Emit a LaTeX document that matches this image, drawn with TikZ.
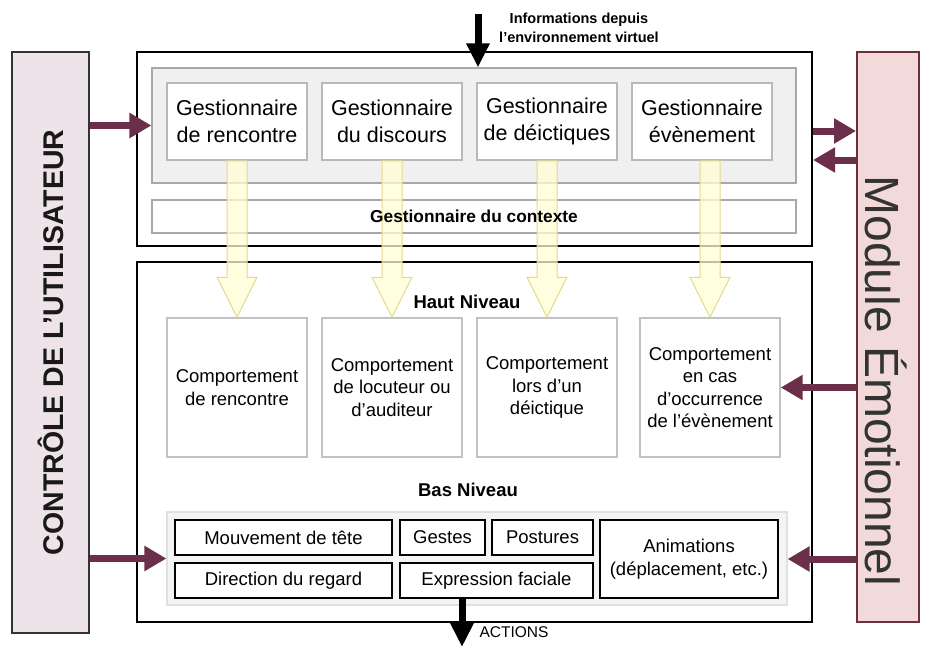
\documentclass[tikz,border=0pt]{standalone}
\usepackage{fontspec}
\setmainfont{Liberation Sans}
\usetikzlibrary{arrows.meta,calc}

\definecolor{maroon}{HTML}{6B2F4C}
\definecolor{ctrlfill}{HTML}{EDE3E8}
\definecolor{emofill}{HTML}{F3DADA}
\definecolor{emoline}{HTML}{6E2E3A}
\definecolor{panelfill}{HTML}{F0F0F0}
\definecolor{softline}{HTML}{A8A8A8}
\definecolor{yfill}{HTML}{FFFFD6}
\definecolor{yline}{HTML}{E2D98E}

\tikzset{
  px/.style={x=1pt,y=-1pt},
  frame/.style={draw=black,line width=2.2pt},
  gpanel/.style={draw=softline,line width=1.2pt,fill=panelfill},
  gbox/.style={draw=softline!80,line width=1.8pt,fill=white,align=center,
    font=\fontsize{21.5}{27}\selectfont},
  cbox/.style={draw=softline!70,line width=1.4pt,fill=white,align=center,
    font=\fontsize{18.5}{22.5}\selectfont},
  lowbox/.style={draw=black,line width=1.5pt,fill=white,align=center,
    font=\fontsize{18.5}{22.5}\selectfont},
  title/.style={font=\bfseries\fontsize{18.5}{22}\selectfont},
  marr/.style={draw=maroon,line width=7pt,-{Triangle[length=22pt,width=24pt]}},
  barr/.style={draw=black,line width=7pt,-{Triangle[length=24pt,width=22pt]}},
  yarr/.style={draw=yline,line width=1pt,fill=yfill,fill opacity=0.75},
}

% hollow yellow arrow from a manager box to a behaviour box
\newcommand{\yellowarrow}[2]{%
  \path[yarr] ($(#2.north |- #1.south)+(-10,0)$) -- ($(#2.north |- #1.south)+(10,0)$)
    -- ($(#2.north)+(10,-40)$) -- ($(#2.north)+(20,-40)$) -- (#2.north)
    -- ($(#2.north)+(-20,-40)$) -- ($(#2.north)+(-10,-40)$) -- cycle;}

\begin{document}
\begin{tikzpicture}[px]
\useasboundingbox (0,0) rectangle (925,650);
\fill[white] (0,0) rectangle (925,650);

% side modules
\node[draw=black!80,line width=1.5pt,fill=ctrlfill,minimum width=77pt,minimum height=581pt,
  inner sep=0pt] (ctrl) at (50.5,342.5) {};
\node[rotate=90,font=\bfseries\fontsize{28.5}{32}\selectfont,text=black!90] (ctrltxt) at (ctrl.center)
  {CONTRÔLE DE L’UTILISATEUR};
\node[draw=emoline,line width=2pt,fill=emofill,minimum width=62pt,minimum height=570pt,
  inner sep=0pt] (emo) at (888,337) {};
\node[rotate=-90,font=\fontsize{48}{52}\selectfont,text=black!80] (emotxt) at (886,381)
  {Module Émotionnel};

% upper block: managers
\node[frame,minimum width=675pt,minimum height=194pt,inner sep=0pt] (topbox) at (474.5,149) {};
\node[gpanel,minimum width=644pt,minimum height=115pt,inner sep=0pt] (gpanel) at (474,125.5) {};
\node[gbox,minimum width=140pt,minimum height=77pt,inner sep=0pt] (g1) at (237,121.5)
  {Gestionnaire\\de rencontre};
\node[gbox,minimum width=140pt,minimum height=77pt,inner sep=0pt] (g2) at (392,121.5)
  {Gestionnaire\\du discours};
\node[gbox,minimum width=140pt,minimum height=77pt,inner sep=0pt] (g3) at (547,121.5)
  {Gestionnaire\\de déictiques};
\node[gbox,minimum width=140pt,minimum height=77pt,inner sep=0pt] (g4) at (702,121.5)
  {Gestionnaire\\évènement};
\node[draw=softline,line width=1.2pt,fill=white,minimum width=644pt,minimum height=33pt,
  inner sep=0pt] (ctx) at (474,216.5) {};

% lower block: behaviours
\node[frame,minimum width=675pt,minimum height=360pt,inner sep=0pt] (lowbox) at (474.5,442) {};
\node[title] (haut) at (467,302) {Haut Niveau};
\node[cbox,minimum width=140pt,minimum height=139pt,inner sep=0pt] (c1) at (237,387.5)
  {Comportement\\de rencontre};
\node[cbox,minimum width=140pt,minimum height=139pt,inner sep=0pt] (c2) at (392,387.5)
  {Comportement\\de locuteur ou\\d’auditeur};
\node[cbox,minimum width=140pt,minimum height=139pt,inner sep=0pt] (c3) at (547,387.5)
  {Comportement\\lors d’un\\déictique};
\node[cbox,minimum width=140pt,minimum height=139pt,inner sep=0pt] (c4) at (710,387.5)
  {Comportement\\en cas\\d’occurrence\\de l’évènement};

\node[title] (bas) at (468,490) {Bas Niveau};
\node[draw=black!12,line width=1.2pt,fill=panelfill!70,minimum width=620pt,minimum height=93pt,
  inner sep=0pt] (baspanel) at (477,558.5) {};
\node[lowbox,minimum width=217pt,minimum height=35pt,inner sep=0pt] (tete) at (283.5,537.5)
  {Mouvement de tête};
\node[lowbox,minimum width=85pt,minimum height=35pt,inner sep=0pt] (gestes) at (442.5,537.5)
  {Gestes};
\node[lowbox,minimum width=101pt,minimum height=35pt,inner sep=0pt] (post) at (542.5,537.5)
  {Postures};
\node[lowbox,minimum width=217pt,minimum height=35pt,inner sep=0pt] (regard) at (283.5,580.5)
  {Direction du regard};
\node[lowbox,minimum width=193pt,minimum height=35pt,inner sep=0pt] (expr) at (496.5,580.5)
  {Expression faciale};
\node[lowbox,minimum width=178pt,minimum height=78pt,inner sep=0pt] (anim) at (689,559)
  {Animations\\(déplacement, etc.)};

% information flow between the managers and the behaviours
\yellowarrow{g1}{c1}
\yellowarrow{g2}{c2}
\yellowarrow{g3}{c3}
\yellowarrow{g4}{c4}
\node[font=\bfseries\fontsize{17.3}{20}\selectfont] (ctxtxt) at (ctx.center) {Gestionnaire du contexte};

% inputs from the virtual environment and outputs
\coordinate (envsrc) at (478,14);
\draw[barr] (envsrc) -- (envsrc |- gpanel.north);
\node[align=center,font=\bfseries\fontsize{14.5}{19}\selectfont,anchor=north] (envtxt) at (579,9)
  {Informations depuis\\l’environnement virtuel};
\coordinate (actend) at (462,647);
\draw[barr] (actend |- expr.south) -- (actend);
\node[anchor=west,font=\fontsize{15.5}{18}\selectfont] (acttxt) at (476,632) {ACTIONS};

% links to the side modules
\draw[marr] (ctrl.east |- gpanel.west) -- (gpanel.west);
\draw[marr] (ctrl.east |- baspanel.west) -- (baspanel.west);
\draw[marr] ([yshift=18pt]topbox.east) -- ([yshift=18pt]topbox.east -| emo.west);
\draw[marr] ([yshift=-11pt]topbox.east -| emo.west) -- ([yshift=-11pt]topbox.east);
\draw[marr] (emo.west |- c4.east) -- (c4.east);
\draw[marr] (emo.west |- anim.east) -- (baspanel.east |- anim.east);
\end{tikzpicture}
\end{document}
